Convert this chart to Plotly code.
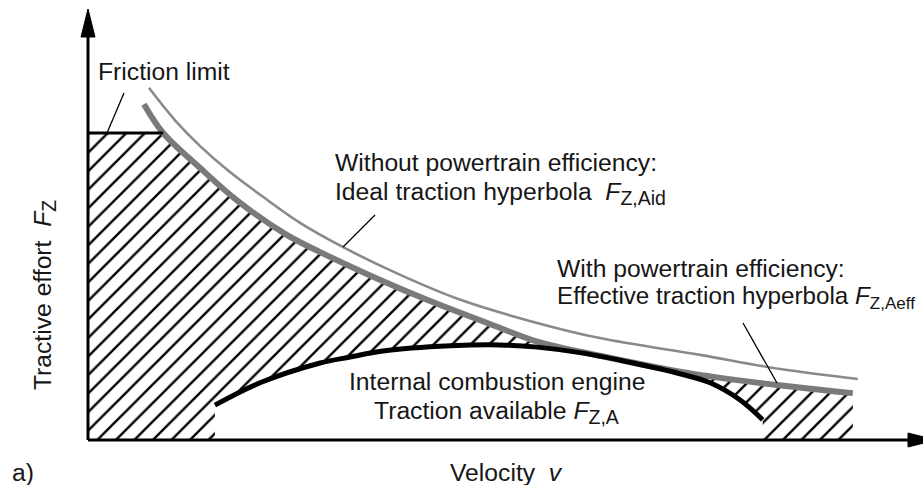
import numpy as np
import plotly.graph_objects as go

# ---------------- data (schematic units: velocity v, tractive effort F) ----------------
IDEAL_V = [7.3, 10.4, 13.4, 17.0, 21.0, 25.4, 30.5, 37.4, 44.6, 52.9, 61.3, 73.3, 82.9, 92.2]
IDEAL_F = [81.9, 74.4, 68.4, 62.3, 56.5, 50.5, 44.9, 38.4, 32.6, 27.7, 23.7, 19.8, 16.5, 14.2]

EFF_V = [6.7, 9.0, 13.4, 17.8, 23.8, 27.8, 35.0, 40.6, 48.5, 53.8, 61.3, 70.9, 74.5, 82.5, 91.6]
EFF_F = [78.1, 71.4, 63.3, 55.8, 47.7, 43.7, 37.2, 32.6, 26.7, 22.9, 19.6, 15.9, 14.8, 12.8, 10.9]

ENGINE_V = [15.2, 20.6, 27.8, 31.4, 35.3, 43.4, 49.3, 53.8, 59.3, 65.3, 70.9, 74.5, 78.1, 80.8]
ENGINE_F = [8.1, 13.3, 17.9, 19.3, 20.7, 21.9, 22.1, 21.6, 20.2, 17.9, 15.4, 13.3, 9.3, 4.7]

FRICTION_F = 71.4

# ---------------- layout geometry ----------------
W, H = 923, 485
ORIGIN_X, ORIGIN_Y = 88, 440      # pixel position of (v=0, F=0)
PX_PER_V, PX_PER_F = 8.35, 4.3


def vx(px):
    return (px - ORIGIN_X) / PX_PER_V


def fy(py):
    return (ORIGIN_Y - py) / PX_PER_F


x_range = [vx(0), vx(W)]
y_range = [fy(H), fy(0)]

FONT = "Liberation Sans, Arial, Helvetica, sans-serif"
TXT = "#161616"
FS = 24.7
SUB = '<sub><span style="font-size:{}px">{}</span></sub>'

fig = go.Figure()

# ---------------- hatched region ----------------
ev = np.array(EFF_V)
ef = np.array(EFF_F)
v_fric = float(np.interp(FRICTION_F, ef[::-1], ev[::-1]))
mask = ef < FRICTION_F
poly_x = [0, 0, v_fric] + list(ev[mask]) + [ev[-1], ENGINE_V[-1]] + ENGINE_V[::-1] + [ENGINE_V[0], 0]
poly_y = [0, FRICTION_F, FRICTION_F] + list(ef[mask]) + [0, 0] + ENGINE_F[::-1] + [0, 0]

fig.add_trace(go.Scatter(
    x=poly_x, y=poly_y, mode="lines", line=dict(width=0, color="black"),
    fill="toself", fillcolor="rgba(0,0,0,0)",
    fillpattern=dict(shape="/", size=13.1, solidity=0.18, fgcolor="black",
                     bgcolor="rgba(0,0,0,0)", fillmode="replace"),
    hoverinfo="skip", showlegend=False))

# ---------------- curves ----------------
fig.add_trace(go.Scatter(x=IDEAL_V, y=IDEAL_F, mode="lines",
                         line=dict(color="#8a8a8a", width=2.6, shape="spline", smoothing=1.0),
                         showlegend=False, hoverinfo="skip"))
fig.add_trace(go.Scatter(x=EFF_V, y=EFF_F, mode="lines",
                         line=dict(color="#7a7a7a", width=6, shape="spline", smoothing=1.0),
                         showlegend=False, hoverinfo="skip"))
fig.add_trace(go.Scatter(x=ENGINE_V, y=ENGINE_F, mode="lines",
                         line=dict(color="black", width=5, shape="spline", smoothing=1.0),
                         showlegend=False, hoverinfo="skip"))
# friction limit
fig.add_trace(go.Scatter(x=[0, v_fric], y=[FRICTION_F, FRICTION_F], mode="lines",
                         line=dict(color="black", width=3),
                         showlegend=False, hoverinfo="skip"))

# ---------------- pointer lines ----------------
pointers = [
    ((vx(124), fy(93)), (vx(107), fy(133))),
    ((vx(375), fy(215)), (vx(343), fy(247))),
    ((vx(743), fy(323)), (vx(777), fy(383))),
]
shapes = []
for (x0, y0), (x1, y1) in pointers:
    shapes.append(dict(type="line", xref="x", yref="y", x0=x0, y0=y0, x1=x1, y1=y1,
                       line=dict(color="black", width=1.3)))

# ---------------- axes with arrows ----------------
ax_len_px, ax_half_px = 28, 7
y_tip = fy(9)
y_base = y_tip - ax_len_px / PX_PER_F
x_tip = vx(936)
x_base = x_tip - ax_len_px / PX_PER_V
shapes.append(dict(type="line", xref="x", yref="y", x0=0, y0=0, x1=0, y1=y_base + 0.5,
                   line=dict(color="black", width=3)))
shapes.append(dict(type="line", xref="x", yref="y", x0=0, y0=0, x1=x_base + 0.5, y1=0,
                   line=dict(color="black", width=3)))
hw_v = ax_half_px / PX_PER_V
hw_f = ax_half_px / PX_PER_F
shapes.append(dict(type="path", xref="x", yref="y",
                   path=f"M {0} {y_tip} L {-hw_v} {y_base} L {hw_v} {y_base} Z",
                   fillcolor="black", line=dict(color="black", width=1)))
shapes.append(dict(type="path", xref="x", yref="y",
                   path=f"M {x_tip} {0} L {x_base} {hw_f} L {x_base} {-hw_f} Z",
                   fillcolor="black", line=dict(color="black", width=1)))

# ---------------- text ----------------
def ann(text, px, py, xanchor="left", angle=0, size=FS):
    return dict(text=text, x=vx(px), y=fy(py), xref="x", yref="y", showarrow=False,
                xanchor=xanchor, yanchor="middle", textangle=angle,
                font=dict(family=FONT, size=size, color=TXT))

NB = "\u00a0"
annotations = [
    ann("Friction limit", 95.5, 71.6),
    ann("Without powertrain efficiency:", 332.5, 162.6),
    ann("Ideal traction hyperbola" + NB + NB + "<i>F</i>" + SUB.format(19.5, "Z,Aid"), 332.5, 193.5),
    ann("With powertrain efficiency:", 554.5, 268.6),
    ann("Effective traction hyperbola <i>F</i>" + SUB.format(17, "Z,Aeff"), 554.5, 297.5, size=24.2),
    ann("Internal combustion engine", 497, 381.6, xanchor="center"),
    ann("Traction available <i>F</i>" + SUB.format(19.5, "Z,A"), 496, 412.5, xanchor="center"),
    ann("Velocity" + NB + NB + "<i>v</i>", 448, 472, xanchor="left"),
    ann("a)", 9.5, 472, xanchor="left"),
    ann("Tractive effort" + NB + NB + "<i>F</i>" + SUB.format(19.5, "Z"), 44.6, 295.5,
        xanchor="center", angle=-90),
]

fig.update_layout(
    width=W, height=H, margin=dict(l=0, r=0, t=0, b=0),
    paper_bgcolor="white", plot_bgcolor="white",
    xaxis=dict(range=x_range, visible=False, fixedrange=True),
    yaxis=dict(range=y_range, visible=False, fixedrange=True),
    shapes=shapes, annotations=annotations, showlegend=False,
)

fig.write_html("out.html", config={"displayModeBar": False},
               post_script="document.body.style.margin='0px';")
